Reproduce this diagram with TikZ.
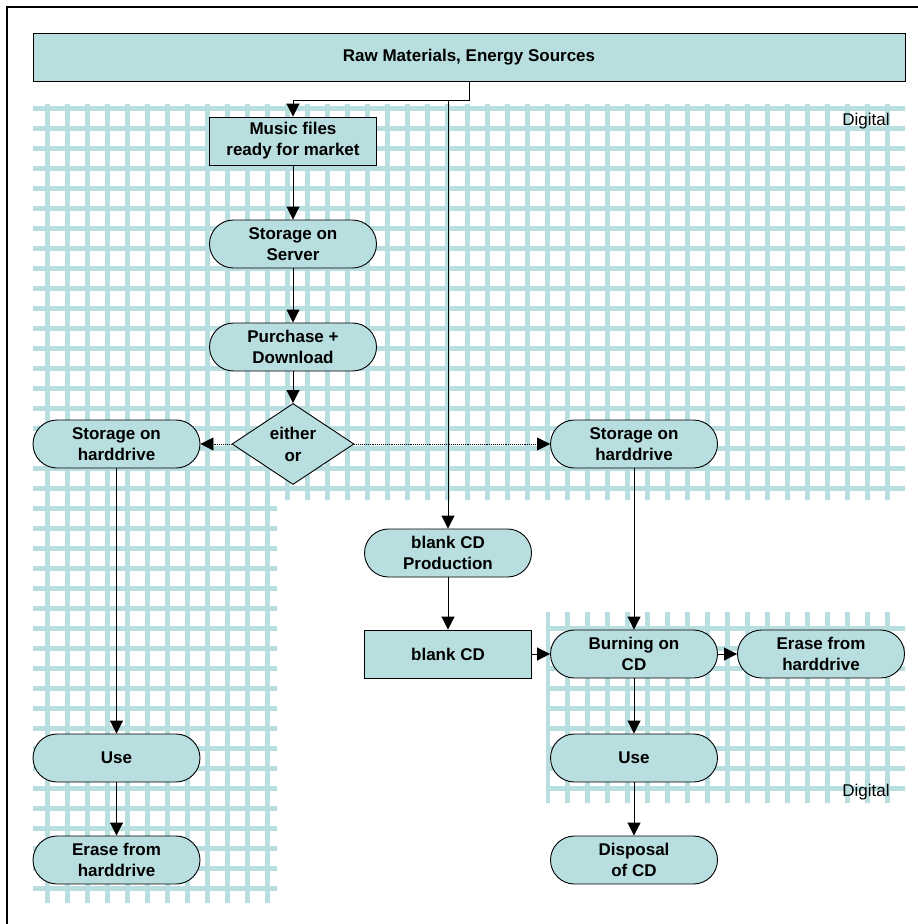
\documentclass[tikz,border=0pt]{standalone}
\usepackage{fontspec}
\setmainfont{Liberation Sans}
\usetikzlibrary{arrows.meta,shapes.geometric}
\definecolor{lightteal}{RGB}{184,222,224}
\begin{document}
\begin{tikzpicture}[x=1pt,y=-1pt,
        font=\fontsize{17}{21}\selectfont,
        gridbar/.style={draw=lightteal,line width=4.6pt},
        box/.style={rectangle,draw=black,line width=0.9pt,fill=lightteal,font=\fontsize{17}{21}\selectfont\bfseries,
            align=center,inner sep=0pt,minimum width=167pt,minimum height=48pt},
        pill/.style={box,rounded corners=24pt},
        choice/.style={diamond,draw=black,line width=0.9pt,fill=lightteal,font=\fontsize{17}{22}\selectfont\bfseries,
            align=center,inner sep=0pt,minimum width=122pt,minimum height=81pt,aspect=1.5},
        zone/.style={font=\fontsize{17}{21}\selectfont,inner sep=0pt}]
        \useasboundingbox (0,0) rectangle (918,924);
        % hatched digital zones
        \begin{scope}
        \clip (33,104) rectangle (905,500) (33,104) rectangle (277,903) (546,612) rectangle (905,803);
        \foreach \x in {47.5,67.5,...,887.5} \draw[gridbar] (\x,100) -- (\x,910);
        \foreach \y in {108.5,128.5,...,888.5} \draw[gridbar] (30,\y) -- (910,\y);
        \end{scope}
        \draw[line width=2pt] (7,940) -- (7,7) -- (930,7);
        \node[box,minimum width=872pt] (raw) at (469,57) {Raw Materials, Energy Sources};
        \node[box] (music) at (293,141) {Music files\\ready for market};
        \node[pill] (server) at (293,244) {Storage on\\Server};
        \node[pill] (purchase) at (293,347) {Purchase +\\Download};
        \node[choice] (either) at (293,444) {either\\or};
        \node[pill] (driveL) at (116.5,444) {Storage on\\harddrive};
        \node[pill] (driveR) at (634,444) {Storage on\\harddrive};
        \node[pill] (blankprod) at (448,553) {blank CD\\Production};
        \node[box] (blank) at (448,654) {blank CD};
        \node[pill] (burn) at (634,654) {Burning on\\CD};
        \node[pill] (eraseR) at (821,654) {Erase from\\harddrive};
        \node[pill] (useR) at (634,758) {Use};
        \node[pill] (dispose) at (634,860) {Disposal\\of CD};
        \node[pill] (useL) at (116.5,758) {Use};
        \node[pill] (eraseL) at (116.5,860) {Erase from\\harddrive};
        \node[zone] (digitalTop) at (866,121) {Digital};
        \node[zone] (digitalBot) at (866,792) {Digital};
        \coordinate (split) at (448,100);
        \begin{scope}[every edge/.style={draw=black,line width=0.9pt,-{Triangle[length=13pt,width=13pt]}}]
        \draw[line width=0.9pt,-{Triangle[length=13pt,width=13pt]}] (raw.south) -- ++(0,19) -| (music.north);
        \path (split) edge (blankprod.north);
        \path (music) edge (server);
        \path (server) edge (purchase);
        \path (purchase) edge (either);
        \path (either) edge[densely dotted,line width=0.7pt] (driveL);
        \path (either) edge[densely dotted,line width=0.7pt] (driveR);
        \path (driveL) edge (useL);
        \path (useL) edge (eraseL);
        \path (driveR) edge (burn);
        \path (blankprod) edge (blank);
        \path (blank) edge (burn);
        \path (burn) edge (eraseR);
        \path (burn) edge (useR);
        \path (useR) edge (dispose);
        \end{scope}
\end{tikzpicture}
\end{document}
